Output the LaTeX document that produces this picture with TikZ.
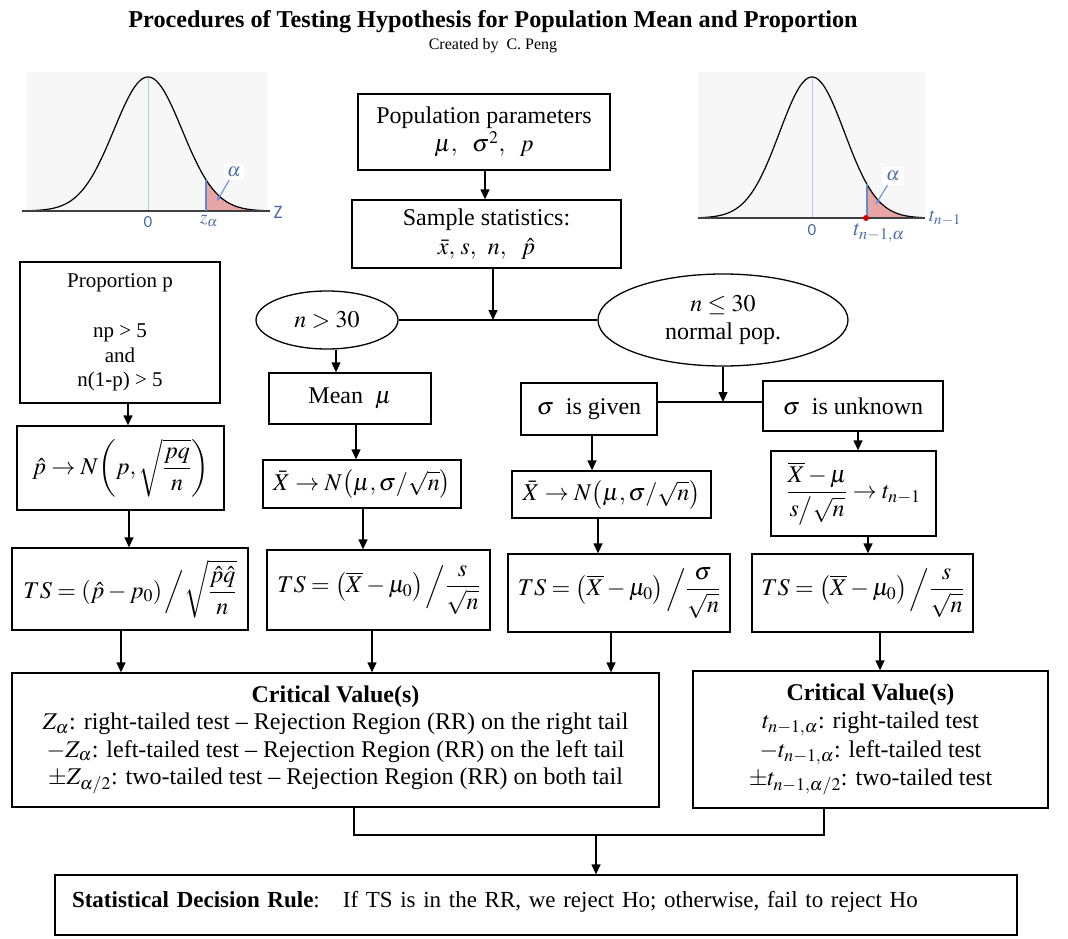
\documentclass[tikz,border=0pt]{standalone}
\usepackage{amsmath}
\usepackage{mathptmx}
\usepackage{fontspec}
\setmainfont{Liberation Serif}
\setsansfont{Carlito}
\usetikzlibrary{arrows.meta,shapes.geometric}
\definecolor{bgc}{HTML}{F7F7F7}
\definecolor{tailc}{HTML}{E8A5A5}
\definecolor{bluec}{HTML}{5B8BD9}
\definecolor{labc}{HTML}{4B6CA8}
\definecolor{centc}{HTML}{B0C8E8}
\newcommand{\fs}{\fontsize{24}{28.5}\selectfont}
\tikzset{
  box/.style={draw=black, line width=1.3pt, inner sep=0pt, align=center, font=\fs},
  oval/.style={ellipse, draw=black, line width=1.3pt, inner sep=0pt, align=center, font=\fs},
  arr/.style={line width=1.3pt, -{Triangle[length=10pt,width=9pt]}},
  ln/.style={line width=1.3pt},
  lab/.style={text=labc, inner sep=1pt, font=\fontsize{19}{19}\selectfont},
  labsf/.style={text=labc, inner sep=1pt, font=\sffamily\fontsize{17}{17}\selectfont},
}
\begin{document}
\begin{tikzpicture}[x=1pt,y=-1pt]
\useasboundingbox (0,0) rectangle (1068,939);

% ---- title
\node[font=\bfseries\fontsize{24.2}{28}\selectfont] (title) at (493,22) {Procedures of Testing Hypothesis for Population Mean and Proportion};
\node[font=\fontsize{16}{18}\selectfont] (sub) at (493,46) {Created by\ \ C. Peng};

% ---- left curve
\fill[bgc] (27,72) rectangle (268,212);
\draw[centc, line width=0.7pt] (148,78) -- (148,211);
\fill[tailc] (206,211) -- plot[domain=1.706:3.5,samples=40] ({148+34*\x},{211-134*exp(-\x*\x/2)}) -- cycle;
\draw[line width=1.2pt] plot[domain=-3.5:3.5,samples=140] ({148+34*\x},{211-134*exp(-\x*\x/2)});
\draw[black!75, line width=1.2pt] (22,211) -- (270,211);
\draw[bluec, line width=2.2pt] (206,211) -- (206,180);
\node[labsf] (l0) at (148,222) {0};
\node[lab] (lz) at (209,221) {$z_\alpha$};
\node[labsf, font=\sffamily\fontsize{19}{19}\selectfont] (lZ) at (278,212) {Z};
\node[lab, fill=white, inner sep=3pt] (la1) at (234,172) {$\alpha$};
\coordinate (la1t) at (217,201);
\draw[bluec, line width=1pt, -{Stealth[length=5pt,width=4pt]}] (la1) -- (la1t);

% ---- right curve
\fill[bgc] (698,72) rectangle (925,218);
\draw[centc, line width=0.7pt] (812,78) -- (812,218);
\fill[tailc] (867,218) -- plot[domain=1.692:3.4,samples=40] ({812+32.5*\x},{218-141*exp(-\x*\x/2)}) -- cycle;
\draw[line width=1.2pt] plot[domain=-3.4:3.4,samples=140] ({812+32.5*\x},{218-141*exp(-\x*\x/2)});
\draw[black!75, line width=1.2pt] (698,218) -- (925,218);
\draw[bluec, line width=2.2pt] (867,218) -- (867,184);
\fill[red!85!black] (866,218) circle (3);
\node[labsf] (r0) at (812,230) {0};
\node[lab, font=\fontsize{22}{22}\selectfont] (rt) at (879,233) {$t_{n-1,\alpha}$};
\node[lab, font=\fontsize{20}{20}\selectfont] (rtn) at (945,218) {$t_{n-1}$};
\node[lab, fill=white, inner sep=4pt] (ra1) at (893,176) {$\alpha$};
\coordinate (ra1t) at (876,204);
\draw[bluec, line width=1pt, -{Stealth[length=5pt,width=4pt]}] (ra1) -- (ra1t);

% ---- top boxes
\node[box, minimum width=252pt, minimum height=76pt] (pop) at (484,132) {Population parameters\\ $\mu,\ \ \sigma^2,\ \ p$};
\node[box, minimum width=269pt, minimum height=68pt] (samp) at (486.5,234) {Sample statistics:\\ $\bar{x},\, s,\ \, n,\ \ \hat{p}$};

% ---- ellipses
\node[oval, minimum width=142pt, minimum height=58pt] (ell1) at (327,320) {$n>30$};
\node[oval, minimum width=250pt, minimum height=92pt] (ell2) at (723,320) {$n\le 30$\\[-1pt] normal pop.};

% ---- proportion column
\node[box, minimum width=200pt, minimum height=141pt, font=\fontsize{21}{24.5}\selectfont] (prop) at (120,332.5) {Proportion p\\[26pt] np > 5\\ and\\ n(1-p) > 5};
\node[box, minimum width=207pt, minimum height=84pt] (pN) at (120.5,468) {$\hat{p}\to N\!\left(p,\sqrt{\dfrac{pq}{n}}\right)$};
\node[box, minimum width=236pt, minimum height=82pt] (TSp) at (130,589) {$TS=\left(\hat{p}-p_0\right)\Big/\sqrt{\dfrac{\hat{p}\hat{q}}{n}}$};

% ---- mean column
\node[box, minimum width=162pt, minimum height=51pt] (mean) at (350,398.5) {Mean\ \ $\mu$};
\node[box, minimum width=198pt, minimum height=48pt] (XN1) at (362,484) {$\bar{X}\to N\bigl(\mu,\sigma/\sqrt{n}\bigr)$};
\node[box, minimum width=223pt, minimum height=80pt] (TS1) at (378.5,590) {$TS=\left(\overline{X}-\mu_0\right)\Big/\dfrac{s}{\sqrt{n}}$};

% ---- sigma given column
\node[box, minimum width=136pt, minimum height=52pt] (given) at (589,409) {$\sigma$\ \ is given};
\node[box, minimum width=199pt, minimum height=47pt] (XN2) at (611.5,494.5) {$\bar{X}\to N\bigl(\mu,\sigma/\sqrt{n}\bigr)$};
\node[box, minimum width=222pt, minimum height=78pt] (TS2) at (619,593) {$TS=\left(\overline{X}-\mu_0\right)\Big/\dfrac{\sigma}{\sqrt{n}}$};

% ---- sigma unknown column
\node[box, minimum width=180pt, minimum height=50pt] (unk) at (853,406) {$\sigma$\ \ is unknown};
\node[box, minimum width=165pt, minimum height=85pt] (tb) at (853.5,493.5) {$\dfrac{\overline{X}-\mu}{s\big/\sqrt{n}}\to t_{n-1}$};
\node[box, minimum width=221pt, minimum height=78pt] (TS3) at (862.5,593) {$TS=\left(\overline{X}-\mu_0\right)\Big/\dfrac{s}{\sqrt{n}}$};

% ---- critical values
\node[box, minimum width=647pt, minimum height=134pt, font=\fontsize{24}{27.5}\selectfont] (crit1) at (335.5,740) {\textbf{Critical Value(s)}\\ $Z_\alpha$: right-tailed test – Rejection Region (RR) on the right tail\\ $-Z_\alpha$: left-tailed test – Rejection Region (RR) on the left tail\\ $\pm Z_{\alpha/2}$: two-tailed test – Rejection Region (RR) on both tail};
\node[box, minimum width=355pt, minimum height=137pt, font=\fontsize{24}{28.5}\selectfont] (crit2) at (870.5,739.5) {\textbf{Critical Value(s)}\\ $t_{n-1,\alpha}$: right-tailed test\\ $-t_{n-1,\alpha}$: left-tailed test\\ $\pm t_{n-1,\alpha/2}$: two-tailed test};

% ---- decision
\node[box, minimum width=962pt, minimum height=60pt, text width=928pt, align=left, text depth=12pt, font=\fontsize{23}{27}\selectfont] (dec) at (536,905) {\textbf{Statistical Decision Rule}:\ \ \ If TS is in the RR, we reject Ho; otherwise, fail to reject Ho};

% ---- connectors
\coordinate (j1) at (493,320);
\coordinate (j2) at (723,402);
\draw[arr] (pop.south -| 485,0) -- (samp.north -| 485,0);
\draw[arr] (samp.south -| j1) -- (j1);
\draw[ln] (ell1.east) -- (ell2.west);
\draw[arr] (ell1.south -| 336,0) -- (mean.north -| 336,0);
\draw[arr] (mean.south -| 356,0) -- (XN1.north -| 356,0);
\draw[arr] (XN1.south -| 363,0) -- (TS1.north -| 363,0);
\draw[arr] (TS1.south -| 372,0) -- (crit1.north -| 372,0);

\draw[arr] (prop.south -| 128,0) -- (pN.north -| 128,0);
\draw[arr] (pN.south -| 129,0) -- (TSp.north -| 129,0);
\draw[arr] (TSp.south -| 121,0) -- (crit1.north -| 121,0);

\draw[arr] (ell2.south) -- (j2);
\draw[ln] (given.east |- j2) -- (unk.west |- j2);
\draw[arr] (given.south -| 592,0) -- (XN2.north -| 592,0);
\draw[arr] (XN2.south -| 598,0) -- (TS2.north -| 598,0);
\draw[arr] (TS2.south -| 611,0) -- (crit1.north -| 611,0);

\draw[arr] (unk.south -| 858,0) -- (tb.north -| 858,0);
\draw[arr] (tb.south -| 868,0) -- (TS3.north -| 868,0);
\draw[arr] (TS3.south -| 880,0) -- (crit2.north -| 880,0);

\coordinate (b1) at (354,835);
\coordinate (b2) at (824,835);
\coordinate (b3) at (596,835);
\draw[ln] (crit1.south -| b1) -- (b1) -- (b2) -- (crit2.south -| b2);
\draw[arr] (b3) -- (dec.north -| b3);
\end{tikzpicture}
\end{document}
